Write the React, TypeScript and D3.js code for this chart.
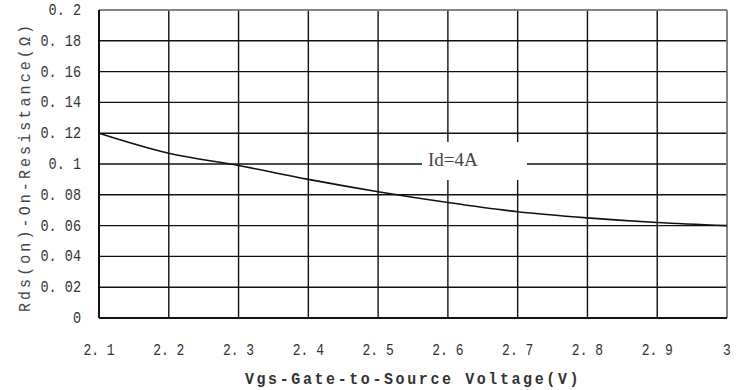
import React from 'react';
import * as d3 from 'd3';

// Vgs (V) vs Rds(on) (ohm)
const vgs = [2.1, 2.2, 2.3, 2.4, 2.5, 2.6, 2.7, 2.8, 2.9, 3.0];
const rds = [0.12, 0.107, 0.099, 0.09, 0.082, 0.075, 0.069, 0.065, 0.062, 0.06];

const xTicks = [2.1, 2.2, 2.3, 2.4, 2.5, 2.6, 2.7, 2.8, 2.9, 3.0];
const yTicks = [0, 0.02, 0.04, 0.06, 0.08, 0.1, 0.12, 0.14, 0.16, 0.18, 0.2];

const W = 741;
const H = 390;
const left = 99, right = 727, top = 10, bottom = 318;

// datasheet style labels: "0. 2", "2. 1"
const fmt = (v: number) => {
  const s = String(+v.toFixed(2));
  return s.replace('.', '. ');
};

function App() {
  const x = d3.scaleLinear().domain([2.1, 3.0]).range([left, right]);
  const y = d3.scaleLinear().domain([0, 0.2]).range([bottom, top]);

  const pts = vgs.map((v, i) => [v, rds[i]] as [number, number]);
  const line = d3.line<[number, number]>()
    .x(d => x(d[0]))
    .y(d => y(d[1]))
    .curve(d3.curveMonotoneX);

  const tickFont = '"Liberation Mono", "DejaVu Sans Mono", monospace';

  return (
    <svg width={W} height={H} style={{ position: 'absolute', left: 0, top: 0, background: '#fff' }}>
      {/* grid */}
      {yTicks.map(t => (
        <line key={'h' + t} x1={left} x2={right} y1={y(t)} y2={y(t)}
          stroke="#111" strokeWidth={1.4} />
      ))}
      {xTicks.map(t => (
        <line key={'v' + t} x1={x(t)} x2={x(t)} y1={top} y2={bottom}
          stroke="#111" strokeWidth={1.4} />
      ))}
      {/* lighter top/right frame */}
      <line x1={left} x2={right} y1={top} y2={top} stroke="#999" strokeWidth={1.4} />
      <line x1={right} x2={right} y1={top} y2={bottom} stroke="#999" strokeWidth={1.4} />
      <line x1={left} x2={left} y1={top} y2={bottom} stroke="#000" strokeWidth={1.6} />
      <line x1={left} x2={right} y1={bottom} y2={bottom} stroke="#000" strokeWidth={1.6} />

      {/* curve */}
      <path d={line(pts) || ''} fill="none" stroke="#111" strokeWidth={1.6} />

      {/* label box */}
      <rect x={422} y={142} width={105} height={38} fill="#fff" />
      <text x={428} y={166} fontFamily='"Liberation Serif", serif' fontSize={19} fill="#444">Id=4A</text>

      {/* y tick labels */}
      {yTicks.map(t => (
        <text key={'yl' + t} transform={`translate(81, ${y(t) + 5}) scale(1, 1.25)`} textAnchor="end"
          fontFamily={tickFont} fontSize={13.5} fill="#333">{fmt(t)}</text>
      ))}
      {/* x tick labels */}
      {xTicks.map(t => (
        <text key={'xl' + t} transform={`translate(${x(t)}, 355) scale(1, 1.25)`} textAnchor="middle"
          fontFamily={tickFont} fontSize={13} fill="#333">{fmt(t)}</text>
      ))}

      {/* axis titles */}
      <text transform="translate(413, 384) scale(1, 1.1)" textAnchor="middle" fontFamily={tickFont} fontSize={15}
        fontWeight="bold" letterSpacing={2.6} fill="#333">Vgs-Gate-to-Source Voltage(V)</text>
      <text transform={`translate(30, ${167}) rotate(-90) scale(1, 1.1)`} textAnchor="middle"
        fontFamily={tickFont} fontSize={15} letterSpacing={3.1} fill="#444">Rds(on)-On-Resistance(Ω)</text>
    </svg>
  );
}

export default App;
